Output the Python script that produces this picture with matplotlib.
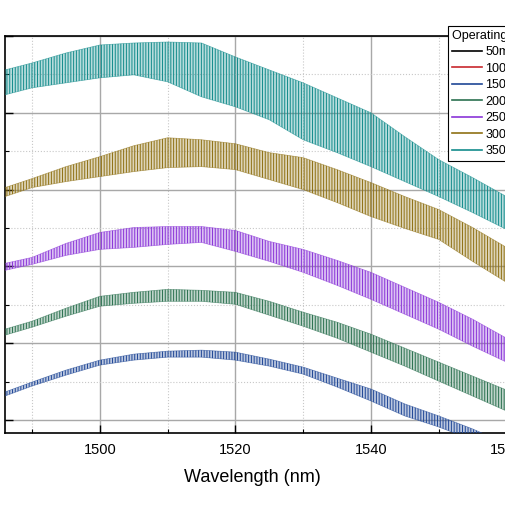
import numpy as np
import matplotlib
matplotlib.use("Agg")
from matplotlib import pyplot as plt
from matplotlib.lines import Line2D
from matplotlib.colors import to_rgba

plt.rcParams['font.family'] = ['Liberation Sans', 'DejaVu Sans']
plt.rcParams['hatch.linewidth'] = 0.7

# envelope of each spectrum (upper / lower edge of the fringe band), dBm
wavelength = [1486, 1490, 1495, 1500, 1505, 1510, 1515, 1520,
              1525, 1530, 1535, 1540, 1545, 1550, 1555, 1560]

upper_150 = [-46.36, -45.06, -43.51, -42.21, -41.43, -41.04, -40.91, -41.17,
             -42.08, -43.12, -44.55, -45.97, -47.92, -49.48, -51.17, -53.12]
lower_150 = [-46.88, -45.58, -44.16, -42.86, -42.21, -41.82, -41.82, -42.21,
             -42.99, -44.03, -45.71, -47.53, -49.48, -50.91, -52.60, -54.55]

upper_200 = [-38.18, -37.14, -35.45, -33.90, -33.38, -32.99, -33.12, -33.38,
             -34.55, -35.97, -37.27, -38.83, -40.65, -42.47, -44.29, -46.10]
lower_200 = [-38.96, -37.92, -36.49, -35.19, -34.81, -34.55, -34.55, -34.94,
             -36.36, -37.79, -39.35, -41.17, -42.99, -44.94, -46.88, -48.83]

upper_250 = [-29.61, -28.83, -27.01, -25.58, -24.94, -24.81, -24.81, -25.32,
             -26.75, -27.79, -29.22, -30.78, -32.73, -34.68, -36.88, -39.35]
lower_250 = [-30.52, -29.74, -28.57, -27.79, -27.53, -27.14, -26.88, -28.05,
             -29.35, -30.78, -32.47, -34.29, -36.23, -38.18, -40.39, -42.47]

upper_300 = [-19.74, -18.57, -17.01, -15.71, -14.29, -13.25, -13.51, -14.03,
             -15.19, -15.84, -17.40, -19.09, -20.91, -22.60, -24.94, -27.53]
lower_300 = [-20.91, -19.74, -18.96, -18.31, -17.66, -17.14, -17.01, -17.40,
             -18.70, -20.00, -21.69, -23.51, -25.06, -26.49, -29.35, -32.08]

upper_350 = [-4.42, -3.51, -2.21, -1.17, -0.91, -0.78, -0.91, -2.73,
             -4.42, -6.10, -8.05, -10.00, -13.12, -16.10, -18.44, -20.91]
lower_350 = [-7.66, -6.75, -6.10, -5.45, -5.06, -5.97, -7.92, -9.22,
             -10.91, -13.51, -15.19, -17.01, -18.96, -20.91, -22.99, -25.19]

currents = ['50mA', '100mA', '150mA', '200mA', '250mA', '300mA', '350mA']
colors = ['#000000', '#c8282d', '#1f4796', '#2b7150', '#8a35d8', '#8f7114', '#138c8c']

bands = {
    '150mA': (upper_150, lower_150),
    '200mA': (upper_200, lower_200),
    '250mA': (upper_250, lower_250),
    '300mA': (upper_300, lower_300),
    '350mA': (upper_350, lower_350),
}

fig = plt.figure(figsize=(5.05, 5.05), dpi=100)
# the chart is a crop: the axes run past the right edge of the picture
ax = fig.add_axes([5 / 505, 72 / 505, 637 / 505, 397 / 505])

ax.set_xlim(1486, 1580)
ax.set_ylim(-51.7, 0)
ax.set_xticks([1500, 1520, 1540, 1560, 1580])
ax.set_xticks([1490, 1510, 1530, 1550, 1570], minor=True)
ax.set_yticks([-50, -40, -30, -20, -10, 0])
ax.set_yticks([-45, -35, -25, -15, -5], minor=True)
ax.grid(which='major', color='#a8a8a8', lw=1.0)
ax.grid(which='minor', color='#c8c8c8', lw=0.8, ls=':')
ax.set_axisbelow(True)

wl = np.array(wavelength)
for cur, col in zip(currents, colors):
    if cur not in bands:
        continue
    up, lo = bands[cur]
    ax.fill_between(wl, lo, up, facecolor=to_rgba(col, 0.3),
                    edgecolor=col, hatch='||||||', linewidth=0, zorder=3)
    ax.plot(wl, up, color=col, lw=0.5, alpha=0.6, zorder=3)
    ax.plot(wl, lo, color=col, lw=0.5, alpha=0.6, zorder=3)

ax.tick_params(which='both', direction='in', labelsize=10.5, pad=7, labelleft=False)
ax.tick_params(which='major', length=6, width=1)
ax.tick_params(which='minor', length=3, width=0.8)
for s in ax.spines.values():
    s.set_linewidth(1.2)
ax.set_xlabel('Wavelength (nm)', fontsize=13, labelpad=9)
ax.xaxis.label.set_x((252.5 - 5) / 637)

handles = [Line2D([], [], color=c, lw=1.2) for c in colors]
leg = fig.legend(handles, currents, title='Operating current', loc='upper left',
                 bbox_to_anchor=(448 / 505, 1 - 26 / 505), fontsize=9, title_fontsize=9,
                 fancybox=False, framealpha=1, edgecolor='black', borderpad=0.3,
                 labelspacing=0.36, handlelength=2.4, handletextpad=0.3,
                 borderaxespad=0, alignment='left')
leg.get_frame().set_linewidth(0.8)

fig.savefig('out.png', dpi=100)
